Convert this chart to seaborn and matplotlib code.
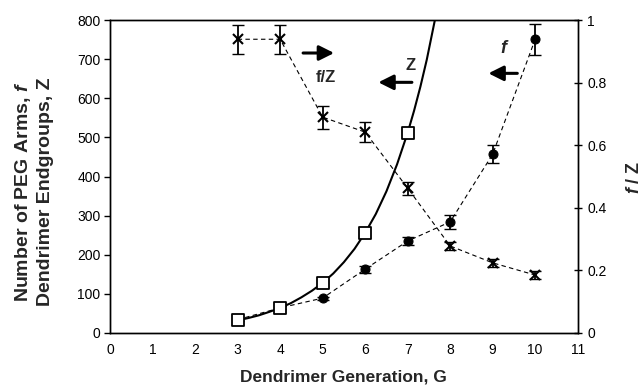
import numpy as np
import pandas as pd
import matplotlib
matplotlib.use("Agg")
import matplotlib.pyplot as plt
import seaborn as sns

gen = [3, 4, 5, 6, 7, 8, 9, 10]
f_arms = [34, 64, 89, 163, 235, 284, 457, 751]
f_err = [4, 4, 4, 9, 11, 17, 23, 40]
fz_ratio = [0.939, 0.939, 0.69, 0.642, 0.463, 0.278, 0.224, 0.185]
fz_err = [0.047, 0.047, 0.037, 0.032, 0.021, 0.014, 0.013, 0.013]
z_gen = [3, 4, 5, 6, 7]
z_groups = [32, 64, 128, 256, 512]
# solid curve
curve_g = [3.0, 3.25, 3.5, 3.75, 4.0, 4.25, 4.5, 4.75, 5.0, 5.25, 5.5, 5.75,
           6.0, 6.25, 6.5, 6.75, 7.0, 7.15, 7.3, 7.45, 7.64]
curve_z = [32, 38, 45, 54, 64, 76, 91, 108, 128, 152, 181, 215,
           256, 304, 362, 431, 512, 568, 630, 699, 800]

sns.set_style("white")
plt.rcParams['font.family'] = ['Liberation Sans', 'DejaVu Sans']
plt.rcParams['mathtext.fontset'] = 'custom'
plt.rcParams['mathtext.bfit'] = 'Liberation Sans:bold:italic'
plt.rcParams['mathtext.it'] = 'Liberation Sans:italic'

fig = plt.figure(figsize=(6.44, 3.88), dpi=100)
ax = fig.add_axes([0.171, 0.142, 0.726, 0.806])
ax2 = ax.twinx()

curve = pd.DataFrame({"G": curve_g, "Z": curve_z})
sns.lineplot(data=curve, x="G", y="Z", ax=ax, color="black", lw=1.5)

df = pd.DataFrame({"G": gen, "f": f_arms, "fz": fz_ratio})
ax.errorbar(gen, f_arms, yerr=f_err, fmt="none", ecolor="black", capsize=4.5, lw=1.3)
sns.lineplot(data=df, x="G", y="f", ax=ax, color="black", lw=0.8, linestyle=(0, (4, 3)),
             marker="o", markersize=6.5, markerfacecolor="black", markeredgecolor="black")

zdf = pd.DataFrame({"G": z_gen, "Z": z_groups})
sns.scatterplot(data=zdf, x="G", y="Z", ax=ax, marker="s", s=80, facecolor="white",
                edgecolor="black", linewidth=1.3, zorder=5)

ax2.errorbar(gen, fz_ratio, yerr=fz_err, fmt="none", ecolor="black", capsize=4.5, lw=1.3)
sns.lineplot(data=df, x="G", y="fz", ax=ax2, color="black", lw=0.8, linestyle=(0, (4, 3)),
             marker="x", markersize=6.5, markeredgewidth=1.5, markeredgecolor="black")

ax.set_xlim(0, 11)
ax.set_ylim(0, 800)
ax2.set_ylim(0, 1)
ax.set_xticks(range(0, 12))
ax.set_yticks(range(0, 801, 100))
ax2.set_yticks([0, 0.2, 0.4, 0.6, 0.8, 1])
ax2.set_yticklabels(["0", "0.2", "0.4", "0.6", "0.8", "1"])

for a in (ax, ax2):
    for s in a.spines.values():
        s.set_color("black")
        s.set_linewidth(1.0)
    a.tick_params(colors="black", labelsize=10, length=4, width=1)
ax.tick_params(axis="x", direction="in", pad=7)
ax.tick_params(axis="y", direction="out", pad=3)
ax2.tick_params(axis="y", direction="inout", length=6, pad=4)

ax.set_xlabel("Dendrimer Generation, G", fontsize=12.5, fontweight="bold", labelpad=9)
ax.set_ylabel("")
ax2.set_ylabel("")
fig.text(0.036, 0.505, "Number of PEG Arms, $\\mathbfit{f}$", rotation=90, fontsize=14,
         fontweight="bold", ha="center", va="center")
fig.text(0.071, 0.505, "Dendrimer Endgroups, Z", rotation=90, fontsize=14,
         fontweight="bold", ha="center", va="center")
fig.text(0.986, 0.544, "$\\mathbfit{f}$ / Z", rotation=90, fontsize=13,
         fontweight="bold", ha="center", va="center")

# annotations with arrows
arr = dict(arrowstyle="-|>,head_length=0.9,head_width=0.45", color="black", lw=2.2,
           shrinkA=0, shrinkB=0)
ax.annotate("", xy=(5.27, 716), xytext=(4.54, 716), arrowprops=arr)
ax.text(5.08, 654, "f/Z", fontsize=12, fontweight="bold", ha="center", va="center")
ax.annotate("", xy=(6.31, 641), xytext=(7.1, 641), arrowprops=arr)
ax.text(7.06, 685, "Z", fontsize=12, fontweight="bold", ha="center", va="center")
ax.annotate("", xy=(8.9, 664), xytext=(9.58, 664), arrowprops=arr)
ax.text(9.29, 728, "$\\mathbfit{f}$", fontsize=13, ha="center", va="center")

fig.savefig("out.png", dpi=100)
